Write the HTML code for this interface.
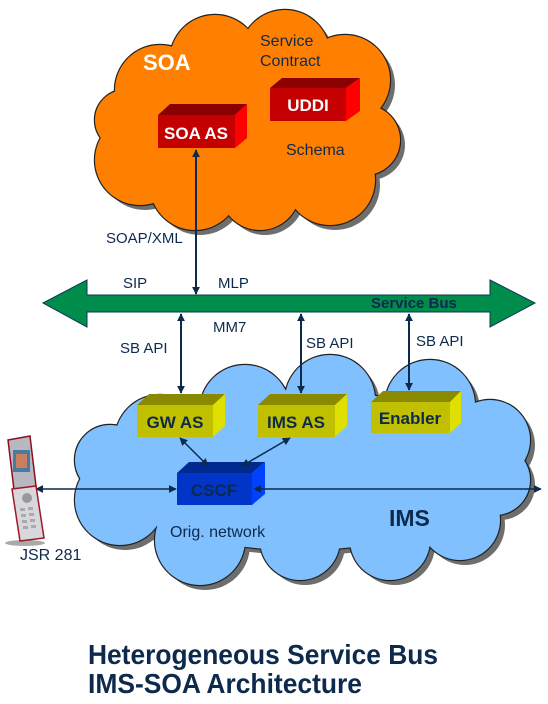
<!DOCTYPE html>
<html><head><meta charset="utf-8"><style>
html,body{margin:0;padding:0;background:#fff}
svg{display:block}
text{font-family:"Liberation Sans",Arial,sans-serif}
</style></head><body>
<svg width="548" height="704" viewBox="0 0 548 704" xmlns="http://www.w3.org/2000/svg">
<defs>
<marker id="ah" viewBox="0 0 10 10" refX="9" refY="5" markerWidth="8" markerHeight="8" markerUnits="userSpaceOnUse" orient="auto-start-reverse"><path d="M0,0 L10,5 L0,10 z" fill="#0d2a4d"/></marker>
<g id="soa">
<ellipse cx="245" cy="130" rx="110" ry="70"/>
<circle cx="160" cy="90" r="45"/><circle cx="215" cy="60" r="45"/><circle cx="285" cy="55" r="45"/>
<circle cx="345" cy="80" r="45"/><circle cx="365" cy="140" r="35"/><circle cx="330" cy="180" r="45"/>
<circle cx="260" cy="190" r="40"/><circle cx="195" cy="185" r="45"/><circle cx="140" cy="160" r="45"/>
<circle cx="125" cy="120" r="30"/>
</g>
<g id="ims">
<ellipse cx="300" cy="470" rx="200" ry="80"/>
<circle cx="160" cy="440" r="45"/><circle cx="245" cy="410" r="45"/><circle cx="330" cy="400" r="45"/>
<circle cx="430" cy="405" r="45"/><circle cx="490" cy="440" r="40"/><circle cx="495" cy="480" r="35"/>
<circle cx="460" cy="520" r="40"/><circle cx="390" cy="540" r="40"/><circle cx="300" cy="540" r="40"/>
<circle cx="200" cy="540" r="45"/><circle cx="120" cy="500" r="45"/><circle cx="110" cy="460" r="35"/>
</g>
</defs>

<use href="#soa" fill="#6e6e6e" transform="translate(5,5)"/>
<use href="#soa" fill="#ff8000" stroke="#222" stroke-width="2.4"/>
<use href="#soa" fill="#ff8000"/>
<text x="143" y="70" font-size="22" font-weight="bold" fill="#fff">SOA</text>
<text x="260" y="46" font-size="16" fill="#0d2a4d">Service</text>
<text x="260" y="66" font-size="16" fill="#0d2a4d">Contract</text>
<text x="286" y="155" font-size="16" fill="#0d2a4d">Schema</text>
<polygon points="270,88 282,78 360,78 346,88" fill="#8b0000"/>
<polygon points="346,88 360,78 360,111 346,121" fill="#ff0000"/>
<rect x="270" y="88" width="76" height="33" fill="#c40000"/>
<text x="308" y="111" font-size="17" font-weight="bold" fill="#fff" text-anchor="middle">UDDI</text>
<polygon points="158,115 170,104 247,104 235,115" fill="#8b0000"/>
<polygon points="235,115 247,104 247,138 235,148" fill="#ff0000"/>
<rect x="158" y="115" width="77" height="33" fill="#c40000"/>
<text x="196" y="139" font-size="17" font-weight="bold" fill="#fff" text-anchor="middle">SOA AS</text>

<line x1="196" y1="150" x2="196" y2="294" stroke="#0d2a4d" stroke-width="2" marker-start="url(#ah)" marker-end="url(#ah)"/>
<text x="106" y="243" font-size="15" fill="#0d2a4d">SOAP/XML</text>
<text x="123" y="288" font-size="15" fill="#0d2a4d">SIP</text>
<text x="218" y="288" font-size="15" fill="#0d2a4d">MLP</text>

<polygon points="43,303 87,280 87,295 490,295 490,280 535,303 490,327 490,312 87,312 87,327" fill="#008c4a" stroke="#0d3a5a" stroke-width="1"/>
<text x="371" y="308" font-size="15" font-weight="bold" fill="#0d2a4d">Service Bus</text>
<text x="213" y="332" font-size="15" fill="#0d2a4d">MM7</text>
<text x="120" y="353" font-size="15" fill="#0d2a4d">SB API</text>
<text x="306" y="348" font-size="15" fill="#0d2a4d">SB API</text>
<text x="416" y="346" font-size="15" fill="#0d2a4d">SB API</text>

<use href="#ims" fill="#6e6e6e" transform="translate(5,5)"/>
<use href="#ims" fill="#80c0ff" stroke="#222" stroke-width="2.4"/>
<use href="#ims" fill="#80c0ff"/>

<line x1="181" y1="314" x2="181" y2="393" stroke="#0d2a4d" stroke-width="2" marker-start="url(#ah)" marker-end="url(#ah)"/>
<line x1="301" y1="314" x2="301" y2="393" stroke="#0d2a4d" stroke-width="2" marker-start="url(#ah)" marker-end="url(#ah)"/>
<line x1="409" y1="314" x2="409" y2="390" stroke="#0d2a4d" stroke-width="2" marker-start="url(#ah)" marker-end="url(#ah)"/>

<polygon points="137,405 149,394 225,394 213,405" fill="#8a8a00"/>
<polygon points="213,405 225,394 225,426 213,437" fill="#e0e000"/>
<rect x="137" y="405" width="76" height="32" fill="#c0c000"/>
<text x="175" y="428" font-size="17" font-weight="bold" fill="#0d2a4d" text-anchor="middle">GW AS</text>
<polygon points="258,405 270,394 347,394 335,405" fill="#8a8a00"/>
<polygon points="335,405 347,394 347,426 335,437" fill="#e0e000"/>
<rect x="258" y="405" width="77" height="32" fill="#c0c000"/>
<text x="296" y="428" font-size="17" font-weight="bold" fill="#0d2a4d" text-anchor="middle">IMS AS</text>
<polygon points="371,402 383,391 461,391 450,402" fill="#8a8a00"/>
<polygon points="450,402 461,391 461,423 450,433" fill="#e0e000"/>
<rect x="371" y="402" width="79" height="31" fill="#c0c000"/>
<text x="410" y="424" font-size="17" font-weight="bold" fill="#0d2a4d" text-anchor="middle">Enabler</text>

<polygon points="177,473 189,462 265,462 252,473" fill="#002a90"/>
<polygon points="252,473 265,462 265,494 252,505" fill="#0040ff"/>
<rect x="177" y="473" width="75" height="32" fill="#0035c8"/>
<text x="214" y="496" font-size="17" font-weight="bold" fill="#0d2a4d" text-anchor="middle">CSCF</text>

<line x1="180" y1="438" x2="208" y2="466" stroke="#0d2a4d" stroke-width="1.5" marker-start="url(#ah)" marker-end="url(#ah)"/>
<line x1="290" y1="438" x2="242" y2="466" stroke="#0d2a4d" stroke-width="1.5" marker-start="url(#ah)" marker-end="url(#ah)"/>
<line x1="36" y1="489" x2="176" y2="489" stroke="#0d2a4d" stroke-width="1.5" marker-start="url(#ah)" marker-end="url(#ah)"/>
<line x1="254" y1="489" x2="541" y2="489" stroke="#0d2a4d" stroke-width="1.5" marker-start="url(#ah)" marker-end="url(#ah)"/>

<text x="389" y="526" font-size="23" font-weight="bold" fill="#0d2a4d">IMS</text>
<text x="170" y="537" font-size="16" fill="#0d2a4d">Orig. network</text>
<text x="20" y="560" font-size="16" fill="#0d2a4d">JSR 281</text>

<g>
<ellipse cx="25" cy="543" rx="20" ry="3" fill="#aaa"/>
<path d="M8,440 L30,436 L36,486 L14,490 Z" fill="#b8b8c0" stroke="#8a1020" stroke-width="1.5"/>
<rect x="13" y="450" width="17" height="22" fill="#4a7aa0"/>
<rect x="16" y="454" width="11" height="14" fill="#c88060"/>
<path d="M12,489 L36,486 L44,538 L20,541 Z" fill="#d8d8dc" stroke="#a01828" stroke-width="1.5"/>
<circle cx="27" cy="498" r="5" fill="#999"/>
<g fill="#aaa"><rect x="20" y="508" width="5" height="3"/><rect x="28" y="507" width="5" height="3"/><rect x="21" y="514" width="5" height="3"/><rect x="29" y="513" width="5" height="3"/><rect x="22" y="520" width="5" height="3"/><rect x="30" y="519" width="5" height="3"/><rect x="23" y="526" width="5" height="3"/><rect x="31" y="525" width="5" height="3"/></g>
</g>

<text x="88" y="664" font-size="28" font-weight="bold" fill="#0d2a4d" textLength="350" lengthAdjust="spacingAndGlyphs">Heterogeneous Service Bus</text>
<text x="88" y="693" font-size="28" font-weight="bold" fill="#0d2a4d" textLength="274" lengthAdjust="spacingAndGlyphs">IMS-SOA Architecture</text>
</svg>
</body></html>
